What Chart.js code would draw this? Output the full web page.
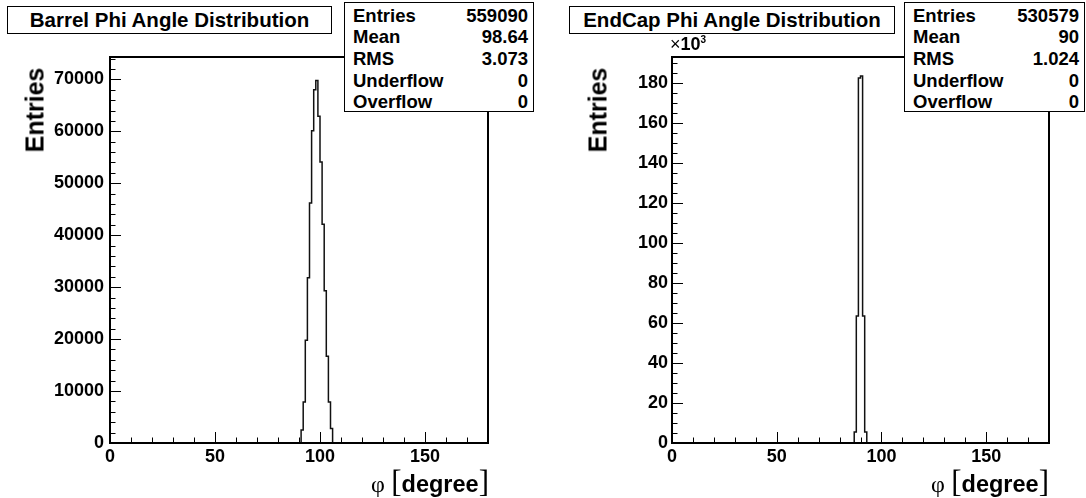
<!DOCTYPE html>
<html>
<head>
<meta charset="utf-8">
<script src="https://cdn.jsdelivr.net/npm/chart.js@4.4.1/dist/chart.umd.min.js"></script>
<style>
  body { margin: 0; background: #fff; }
  #page { position: relative; width: 1086px; height: 498px; overflow: hidden; background: #fff;
          font-family: "Liberation Sans", Arial, Helvetica, sans-serif; font-weight: bold; color: #000; }
  canvas { position: absolute; left: 0; top: 0; }
  .box { position: absolute; background: #fff; border: 1px solid #000; box-sizing: border-box; }
  .title { font-size: 20.5px; text-align: center; line-height: 25px; white-space: nowrap; }
  .stats { font-size: 18.5px; }
  .stats .row { position: absolute; left: 0; right: 0; height: 21px; line-height: 21px; }
  .stats .k { position: absolute; left: 8px; }
  .stats .v { position: absolute; right: 5px; }
  .ytitle { position: absolute; font-size: 25px; white-space: nowrap; transform: translate(-50%, -50%) rotate(-90deg); }
  .xtitle { position: absolute; font-size: 23.5px; white-space: nowrap; transform: translateX(-100%); line-height: 30px; }
  .xtitle .phi { font-family: "Liberation Serif", "DejaVu Serif", serif; font-weight: normal; font-size: 24px; }
  .xtitle .br { font-family: "Liberation Serif", "DejaVu Serif", serif; font-weight: normal; font-size: 31px; }
  .mult { position: absolute; font-size: 18px; white-space: nowrap; }
  .mult sup { font-size: 10px; }
</style>
</head>
<body>
<div id="page">
  <canvas id="barrel" width="1086" height="498"></canvas>
  <canvas id="endcap" width="1086" height="498"></canvas>
</div>
<script>
// histogram ranges and bins (1 degree per bin)
const xMin = 0;
const xMax = 180;
const binWidth = 1;
const xTicks = [0, 50, 100, 150];

// Barrel: bins start at 91 degree
const barrelFirstBin = 91;
const barrelCounts = [2500, 7900, 19800, 31800, 46200, 60100, 68000, 69800, 62900, 54100, 42100, 29300, 16700, 7900, 2800];
const barrelYTicks = [0, 10000, 20000, 30000, 40000, 50000, 60000, 70000];
const barrelYMax = 74300;

// EndCap: bins start at 87 degree
const endcapFirstBin = 87;
const endcapCounts = [5500, 63500, 182500, 183500, 63500, 5500];
const endcapYTicks = [0, 20000, 40000, 60000, 80000, 100000, 120000, 140000, 160000, 180000];
const endcapYMax = 193000;

const barrelTitle = 'Barrel Phi Angle Distribution';
const endcapTitle = 'EndCap Phi Angle Distribution';
const statNames = ['Entries', 'Mean', 'RMS', 'Underflow', 'Overflow'];
const barrelStats = ['559090', '98.64', '3.073', '0', '0'];
const endcapStats = ['530579', '90', '1.024', '0', '0'];

function histPoints(first, counts) {
  const pts = [{ x: first, y: 0 }];
  counts.forEach((c, i) => pts.push({ x: first + (i + 1) * binWidth, y: c }));
  pts.push({ x: first + counts.length * binWidth, y: 0 });
  return pts;
}

// ROOT like frame with inward ticks
const frame = {
  id: 'frame',
  afterDatasetsDraw(chart, args, o) {
    const { ctx, chartArea: a, scales: { x, y } } = chart;
    ctx.save();
    ctx.strokeStyle = '#000';
    ctx.lineWidth = 1;
    ctx.beginPath();
    for (let v = xMin; v <= xMax; v += o.xMinor) {
      const px = Math.round(x.getPixelForValue(v)) + 0.5;
      const len = v % o.xMajor === 0 ? 11 : 5.5;
      ctx.moveTo(px, a.bottom);
      ctx.lineTo(px, a.bottom - len);
    }
    for (let v = 0; v <= y.max; v += o.yMinor) {
      const py = Math.round(y.getPixelForValue(v)) + 0.5;
      const len = v % o.yMajor === 0 ? 11 : 5.5;
      ctx.moveTo(a.left, py);
      ctx.lineTo(a.left + len, py);
    }
    ctx.stroke();
    ctx.lineWidth = 2;
    ctx.strokeRect(a.left, a.top, a.right - a.left, a.bottom - a.top);
    ctx.restore();
  }
};

function makeHist(id, first, counts, yTicks, yMax, area, opt) {
  const yW = 70, xH = 40;
  new Chart(document.getElementById(id), {
    type: 'line',
    data: {
      datasets: [{
        data: histPoints(first, counts),
        stepped: 'after',
        borderColor: '#111',
        borderWidth: 1.5,
        pointRadius: 0,
        fill: false
      }]
    },
    options: {
      responsive: false,
      animation: false,
      events: [],
      layout: { padding: { left: area.left - yW, right: 1086 - area.right, top: area.top, bottom: 498 - area.bottom - xH } },
      plugins: {
        legend: { display: false },
        tooltip: { enabled: false },
        frame: opt
      },
      scales: {
        x: {
          type: 'linear',
          min: xMin,
          max: xMax,
          afterFit: s => { s.height = xH; },
          afterBuildTicks: s => { s.ticks = xTicks.map(v => ({ value: v })); },
          grid: { display: false, drawTicks: false },
          border: { display: false },
          ticks: { color: '#000', padding: 3, maxRotation: 0, autoSkip: false,
                    font: { family: 'Liberation Sans', weight: 'bold', size: 18 } }
        },
        y: {
          type: 'linear',
          min: 0,
          max: yMax,
          afterFit: s => { s.width = yW; },
          afterBuildTicks: s => { s.ticks = yTicks.map(v => ({ value: v })); },
          grid: { display: false, drawTicks: false },
          border: { display: false },
          ticks: { color: '#000', padding: opt.yPad, autoSkip: false,
                   callback: v => String(v / opt.yScale),
                   font: { family: 'Liberation Sans', weight: 'bold', size: 18 } }
        }
      }
    },
    plugins: [frame]
  });
}

makeHist('barrel', barrelFirstBin, barrelCounts, barrelYTicks, barrelYMax,
  { left: 110, right: 488, top: 57, bottom: 443 },
  { xMajor: 50, xMinor: 10, yMajor: 10000, yMinor: 2000, yScale: 1, yPad: 6 });
makeHist('endcap', endcapFirstBin, endcapCounts, endcapYTicks, endcapYMax,
  { left: 672, right: 1049, top: 57, bottom: 443 },
  { xMajor: 50, xMinor: 10, yMajor: 20000, yMinor: 5000, yScale: 1000, yPad: 4 });

// text boxes
const page = document.getElementById('page');
function addEl(cls, style, html) {
  const d = document.createElement('div');
  d.className = cls;
  Object.assign(d.style, style);
  d.innerHTML = html;
  page.appendChild(d);
  return d;
}
function addStats(left, top, width, height, values) {
  const b = addEl('box stats', { left: left + 'px', top: top + 'px', width: width + 'px', height: height + 'px' }, '');
  statNames.forEach((n, i) => {
    const r = document.createElement('div');
    r.className = 'row';
    r.style.top = (1.5 + i * 21.7) + 'px';
    r.innerHTML = '<span class="k">' + n + '</span><span class="v">' + values[i] + '</span>';
    b.appendChild(r);
  });
}

addEl('box title', { left: '7px', top: '6px', width: '325px', height: '28px' }, barrelTitle);
addStats(344, 2, 190, 110, barrelStats);
addEl('ytitle', { left: '35px', top: '110px' }, 'Entries');
addEl('xtitle', { left: '489px', top: '467px' }, '<span class="phi">φ</span> <span class="br">[</span>degree<span class="br">]</span>');

addEl('box title', { left: '569px', top: '6px', width: '326px', height: '28px' }, endcapTitle);
addStats(904, 2, 181, 110, endcapStats);
addEl('ytitle', { left: '598px', top: '110px' }, 'Entries');
addEl('xtitle', { left: '1049px', top: '467px' }, '<span class="phi">φ</span> <span class="br">[</span>degree<span class="br">]</span>');
addEl('mult', { left: '670px', top: '34px' }, '<span style="font-weight:normal">×</span>10<sup>3</sup>');
</script>
</body>
</html>
